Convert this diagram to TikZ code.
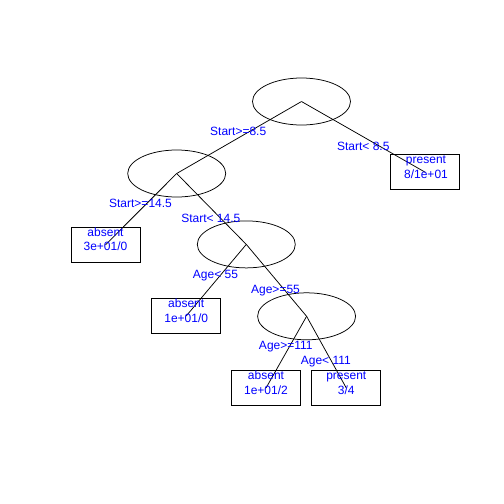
\documentclass[tikz,border=0pt]{standalone}
\usepackage{fontspec}
\setmainfont{Liberation Sans}
\usetikzlibrary{shapes.geometric}
\begin{document}
\begin{tikzpicture}[x=1pt,y=-1pt,
  splitnode/.style={draw,ellipse,minimum width=98pt,minimum height=47pt,inner sep=0pt,line width=0.75pt},
  leafbox/.style={draw,rectangle,minimum width=69pt,minimum height=35pt,inner sep=0pt,line width=0.75pt},
  lbl/.style={text=blue,font=\fontsize{12pt}{14pt}\selectfont,anchor=base,inner sep=0pt},
  edge/.style={line width=0.75pt}]
\useasboundingbox (0,0) rectangle (504,504);
% split nodes
\node[splitnode] (e1) at (301.5,101.5) {};
\node[splitnode] (e2) at (176.7,173.5) {};
\node[splitnode] (e3) at (246.3,244.4) {};
\node[splitnode] (e4) at (306.6,316.3) {};
% leaves
\node[leafbox] (p1) at (425.3,172.3) {};
\node[leafbox] (a1) at (105.5,244.8) {};
\node[leafbox] (a2) at (186.2,316) {};
\node[leafbox] (a3) at (266,388) {};
\node[leafbox] (p2) at (346.3,388) {};
% branches
\draw[edge] (e1.center) -- (e2.center);
\draw[edge] (e1.center) -- (p1.center);
\draw[edge] (e2.center) -- (a1.center);
\draw[edge] (e2.center) -- (e3.center);
\draw[edge] (e3.center) -- (a2.center);
\draw[edge] (e3.center) -- (e4.center);
\draw[edge] (e4.center) -- (a3.center);
\draw[edge] (e4.center) -- (p2.center);
% split labels
\node[lbl] (s1l) at (238.2,135) {Start>=8.5};
\node[lbl] (s1r) at (363.3,150) {Start< 8.5};
\node[lbl] (s2l) at (140.5,207.7) {Start>=14.5};
\node[lbl] (s2r) at (210.8,222) {Start< 14.5};
\node[lbl] (s3l) at (215.5,278.3) {Age< 55};
\node[lbl] (s3r) at (275.5,293.3) {Age>=55};
\node[lbl] (s4l) at (285.8,349.3) {Age>=111};
\node[lbl] (s4r) at (325.8,364.3) {Age< 111};
% leaf texts
\node[lbl] (p1a) at (426,163) {present};
\node[lbl] (p1b) at (426,178.8) {8/1e+01};
\node[lbl] (a1a) at (105.5,236) {absent};
\node[lbl] (a1b) at (105.5,250.5) {3e+01/0};
\node[lbl] (a2a) at (186.2,307.2) {absent};
\node[lbl] (a2b) at (186.2,322) {1e+01/0};
\node[lbl] (a3a) at (266,379.3) {absent};
\node[lbl] (a3b) at (266,394) {1e+01/2};
\node[lbl] (p2a) at (346.3,379.3) {present};
\node[lbl] (p2b) at (346.3,394) {3/4};
\end{tikzpicture}
\end{document}
